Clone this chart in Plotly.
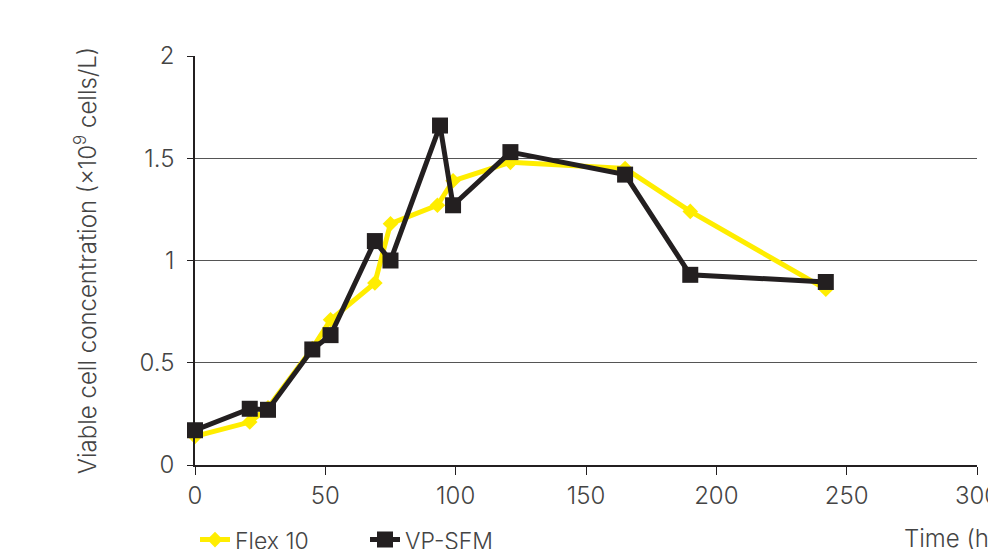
import plotly.graph_objects as go

flex_time = [0, 21, 28, 45, 52, 69, 75, 93, 99, 121, 165, 190, 242]
flex_vcc = [0.14, 0.21, 0.28, 0.57, 0.71, 0.89, 1.18, 1.27, 1.39, 1.48, 1.45, 1.24, 0.86]

sfm_time = [0, 21, 28, 45, 52, 69, 75, 94, 99, 121, 165, 190, 242]
sfm_vcc = [0.17, 0.275, 0.27, 0.565, 0.635, 1.095, 1.0, 1.66, 1.27, 1.53, 1.42, 0.93, 0.895]

x_ticks = [0, 50, 100, 150, 200, 250, 300]
y_ticks = [0, 0.5, 1, 1.5, 2]

YELLOW = "#FFED00"
BLACK = "#231F20"
TXT = "#444444"
FONT = "Inter"

fig = go.Figure()
fig.add_trace(go.Scatter(
    x=flex_time, y=flex_vcc, name="Flex 10", mode="lines+markers",
    line=dict(color=YELLOW, width=5),
    marker=dict(symbol="diamond", size=12, color=YELLOW),
    cliponaxis=False,
))
fig.add_trace(go.Scatter(
    x=sfm_time, y=sfm_vcc, name="VP-SFM", mode="lines+markers",
    line=dict(color=BLACK, width=5),
    marker=dict(symbol="square", size=16, color=BLACK),
    cliponaxis=False,
))

fig.update_layout(
    width=988, height=549,
    margin=dict(l=195, r=11, t=56, b=84, autoexpand=False),
    paper_bgcolor="white", plot_bgcolor="white",
    font=dict(family=FONT, size=22, color=TXT, weight=300),
    showlegend=True,
    legend=dict(orientation="h", x=0.0, xanchor="left", y=-0.13, yanchor="top",
                font=dict(size=23, color=TXT, weight=300), itemwidth=30, tracegroupgap=0,
                entrywidth=125, bgcolor="rgba(0,0,0,0)"),
    xaxis=dict(range=[0, 300], tickvals=x_ticks, ticktext=[str(v) for v in x_ticks],
               showgrid=False, zeroline=False, showline=True, linecolor=BLACK, linewidth=1.5,
               ticks="outside", ticklen=8, tickcolor=BLACK, tickwidth=1, automargin=False,
               ticklabeloverflow="allow",
               tickfont=dict(size=24, color=TXT, weight=300)),
    yaxis=dict(range=[0, 2], tickvals=y_ticks, ticktext=["0", "0.5", "1", "1.5", "2"],
               showgrid=True, gridcolor="#555555", gridwidth=1,
               zeroline=False, showline=True, linecolor=BLACK, linewidth=1.5,
               ticks="outside", ticklen=6, tickcolor=BLACK, tickwidth=1, automargin=False,
               ticklabelstandoff=8,
               tickfont=dict(size=24, color=TXT, weight=300),
               title=dict(text="Viable cell concentration (×10<sup>9</sup> cells/L)",
                          font=dict(size=24, color=TXT, weight=300), standoff=36)),
)

fig.add_annotation(text="Time (h)", xref="paper", yref="paper",
                   x=(902 - 195) / 782, y=-0.18, xanchor="left", yanchor="middle",
                   showarrow=False, font=dict(size=24, color=TXT, weight=300))

fig.write_html("out.html", config={"displayModeBar": False},
               post_script="document.body.style.margin='0px';")
